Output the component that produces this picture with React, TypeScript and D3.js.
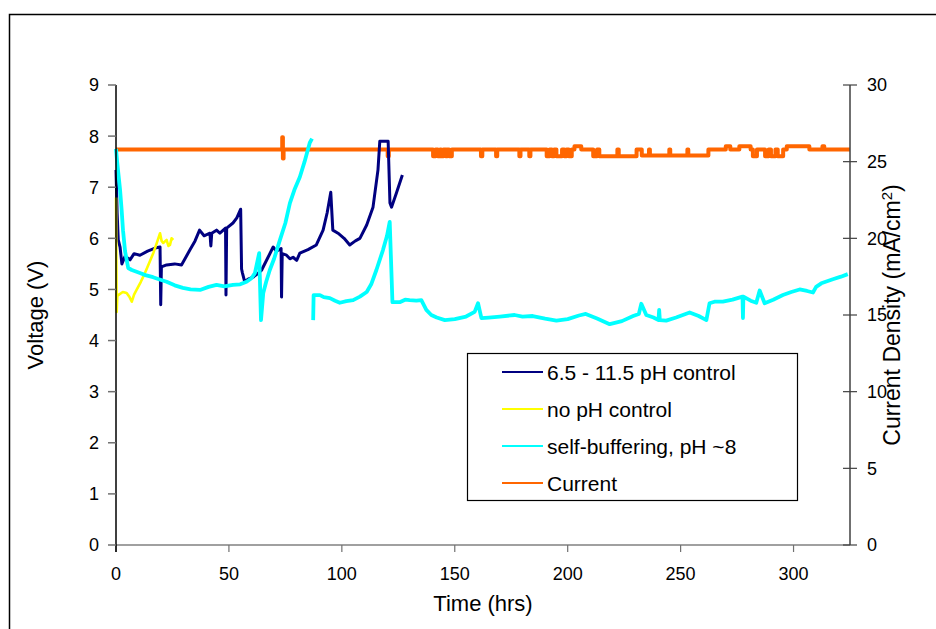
import React from "react";
import * as d3 from "d3";

// Time (hrs) / voltage (V) traces for each run
const phControl: [number, number][] = [
  [0, 7.34], [0.5, 6.5], [1, 5.97], [1.8, 5.83], [2.6, 5.5], [4, 5.65], [6.2, 5.58], [8, 5.7],
  [10.6, 5.67], [14, 5.75], [17.3, 5.81], [19.5, 5.83], [19.8, 4.7], [20.1, 5.44], [22.4, 5.48],
  [26, 5.5], [29, 5.48], [32.7, 5.77], [35, 5.95], [37, 6.16], [39, 6.05], [41.6, 6.1], [42, 5.85],
  [42.4, 6.1], [44.5, 6.16], [46, 6.1], [48.5, 6.2], [48.7, 4.89], [49, 6.2], [51.8, 6.3],
  [53.5, 6.4], [55.2, 6.57], [55.6, 5.4], [56, 5.32], [57, 5.15], [58.5, 5.2], [60.7, 5.24],
  [62.5, 5.3], [64.5, 5.38], [67, 5.6], [69.6, 5.83], [71, 5.75], [73.1, 5.8], [73.3, 4.85],
  [73.6, 5.7], [75.5, 5.67], [77, 5.6], [78.4, 5.63], [80, 5.57], [81.4, 5.71], [85, 5.78],
  [88.7, 5.87], [91.7, 6.16], [93.5, 6.5], [95.1, 6.9], [96, 6.16], [98.3, 6.1], [101, 6.0],
  [103.5, 5.87], [106, 5.95], [108, 6.0], [111, 6.26], [113.8, 6.61], [116, 7.34], [116.8, 7.9],
  [120.5, 7.9], [121.3, 6.69], [122, 6.61], [124.2, 6.89], [126.8, 7.24],
];

const noControl: [number, number][] = [
  [0, 6.8], [0.3, 4.56], [0.6, 4.9], [1, 4.89], [3, 4.95], [4.7, 4.93], [6, 4.85], [7, 4.76],
  [8, 4.9], [9.1, 4.99], [11, 5.15], [12.8, 5.32], [14.5, 5.5], [16.5, 5.71], [18, 5.9],
  [19.5, 6.1], [20.2, 5.95], [20.9, 5.91], [22.4, 5.97], [23.2, 5.85], [23.9, 5.87], [24.6, 6.0],
  [25.4, 5.97],
];

const selfBufferingA: [number, number][] = [
  [0, 7.75], [0.5, 7.5], [1.2, 7.2], [1.8, 6.95], [2.5, 6.55], [3.1, 6.16], [4, 5.75], [5.4, 5.42],
  [7, 5.38], [10.6, 5.32], [13, 5.28], [16.4, 5.24], [19, 5.2], [22.4, 5.15], [26, 5.08],
  [29.6, 5.03], [33, 5.0], [37.2, 4.99], [41, 5.05], [44.5, 5.09], [48, 5.06], [51.8, 5.09],
  [55, 5.1], [57.8, 5.15], [60, 5.22], [61.5, 5.32], [63.4, 5.71], [64.2, 4.4], [65.2, 4.93],
  [66.5, 5.15], [68.1, 5.38], [70, 5.6], [72.6, 5.97], [75, 6.3], [77, 6.69], [79, 6.95],
  [81.4, 7.2], [83.5, 7.5], [85.8, 7.87], [86.8, 7.95],
];

const selfBufferingB: [number, number][] = [
  [87.3, 4.4], [87.5, 4.89], [90.3, 4.89], [92, 4.85], [94.7, 4.83], [97, 4.78], [99.1, 4.74],
  [102, 4.77], [105, 4.79], [108, 4.86], [111, 4.95], [113, 5.1], [115.3, 5.38], [118.2, 5.77],
  [120, 6.05], [121.2, 6.32], [122.4, 4.75], [125.6, 4.75], [128, 4.8], [130, 4.79], [133, 4.78],
  [135.2, 4.79], [137.4, 4.6], [139.6, 4.5], [142, 4.45], [145.6, 4.4], [150, 4.42], [155, 4.47],
  [158.8, 4.56], [160.3, 4.73], [161.8, 4.44], [165, 4.45], [170, 4.47], [176.5, 4.5], [180, 4.47],
  [184.5, 4.48], [190, 4.43], [195, 4.39], [200, 4.42], [205, 4.49], [208, 4.52], [213, 4.43],
  [218.6, 4.32], [224, 4.38], [229, 4.48], [231.5, 4.52], [232.6, 4.72], [234.8, 4.5], [238, 4.45],
  [240.2, 4.4], [240.5, 4.6], [240.8, 4.4], [243.6, 4.39], [248, 4.45], [254, 4.55], [258, 4.48],
  [261.4, 4.4], [262.8, 4.73], [265, 4.76], [268.7, 4.76], [273, 4.8], [277.4, 4.86], [277.6, 4.44],
  [277.8, 4.86], [281, 4.78], [283.5, 4.74], [285, 4.98], [287.2, 4.73], [291, 4.8], [295.3, 4.89],
  [299, 4.95], [302.7, 5.0], [306, 4.97], [308.6, 4.94], [310, 5.05], [312.3, 5.12], [317.4, 5.2],
  [321, 5.25], [324, 5.3],
];

// Time (hrs) / current density (mA/cm²), held as steps
const current: [number, number][] = [
  [0, 25.8], [73.6, 26.6], [73.9, 25.2], [74.2, 25.8], [120.3, 25.35], [120.8, 25.8],
  [140.4, 25.35], [141.5, 25.8], [142.5, 25.35], [143.5, 25.8], [144, 25.35], [145, 25.8],
  [146, 25.35], [146.7, 25.8], [147.5, 25.35], [148.7, 25.8], [161.6, 25.35], [162.2, 25.8],
  [168.3, 25.35], [168.8, 25.8], [178.6, 25.35], [179.1, 25.8], [183, 25.35], [183.5, 25.8],
  [190.7, 25.35], [192, 25.8], [193, 25.35], [194, 25.8], [195, 25.35], [197.5, 25.8],
  [198.5, 25.35], [199.5, 25.8], [200.5, 25.35], [201.8, 25.8], [203, 26.0], [206, 25.8],
  [211.3, 25.35], [213, 25.8], [214, 25.35], [222, 25.8], [222.6, 25.35], [230.5, 25.8],
  [232.8, 25.4], [236, 25.8], [236.4, 25.4], [245, 25.8], [245.4, 25.4], [253, 25.8],
  [253.4, 25.4], [262.3, 25.8], [270, 26.0], [272, 25.8], [276, 26.0], [281, 25.8],
  [282, 25.35], [283.8, 25.8], [287.4, 25.35], [289, 25.8], [290, 25.35], [292, 25.8],
  [293, 25.35], [295.4, 25.8], [297, 26.0], [307, 25.8], [312.8, 26.0], [313.6, 25.8],
  [325, 25.8],
];

const timeTicks = [0, 50, 100, 150, 200, 250, 300];
const voltageTicks = [0, 1, 2, 3, 4, 5, 6, 7, 8, 9];
const currentTicks = [0, 5, 10, 15, 20, 25, 30];

const legendItems = [
  { label: "6.5 - 11.5 pH control", color: "#000080" },
  { label: "no pH control", color: "#FFFF00" },
  { label: "self-buffering, pH ~8", color: "#00FFFF" },
  { label: "Current", color: "#FF6600" },
];

const W = 936;
const H = 629;
const left = 116;
const right = 850;
const top = 85;
const bottom = 545;
const font = "'Liberation Sans', Arial, sans-serif";

export default function App() {
  const x = d3.scaleLinear().domain([0, 325]).range([left, right]);
  const yV = d3.scaleLinear().domain([0, 9]).range([bottom, top]);
  const yI = d3.scaleLinear().domain([0, 30]).range([bottom, top]);

  const vLine = d3
    .line<[number, number]>()
    .x((d) => x(d[0]))
    .y((d) => yV(d[1]));
  const iLine = d3
    .line<[number, number]>()
    .x((d) => x(d[0]))
    .y((d) => yI(d[1]))
    .curve(d3.curveStepAfter);

  const axisColor = "#404040";
  const tickColor = "#707070";

  return (
    <div style={{ position: "fixed", left: 0, top: 0 }}>
      <svg width={W} height={H} style={{ display: "block", background: "#fff" }} fontFamily={font}>
        <rect x={9.5} y={14.5} width={940} height={640} fill="#fff" stroke="#000" strokeWidth={1.5} />

        {/* series */}
        <g fill="none" strokeLinejoin="round">
          <path d={iLine(current) ?? ""} stroke="#FF6600" strokeWidth={4} />
          <path d={vLine(phControl) ?? ""} stroke="#000080" strokeWidth={3} />
          <path d={vLine(noControl) ?? ""} stroke="#FFFF00" strokeWidth={2.6} />
          <path d={vLine(selfBufferingA) ?? ""} stroke="#00FFFF" strokeWidth={3.8} />
          <path d={vLine(selfBufferingB) ?? ""} stroke="#00FFFF" strokeWidth={3.8} />
        </g>

        {/* x axis */}
        <line x1={left} x2={right} y1={bottom} y2={bottom} stroke="#808080" strokeWidth={1.5} />
        {timeTicks.map((t) => (
          <g key={"t" + t}>
            <line x1={x(t)} x2={x(t)} y1={bottom} y2={bottom + 7} stroke={tickColor} strokeWidth={1.2} />
            <text x={x(t)} y={580} textAnchor="middle" fontSize={18} fill="#000">
              {t}
            </text>
          </g>
        ))}

        {/* left axis */}
        <line x1={left} x2={left} y1={top} y2={bottom + 7} stroke="#000" strokeWidth={1.5} />
        {voltageTicks.map((v) => (
          <g key={"v" + v}>
            <line x1={left - 8} x2={left} y1={yV(v)} y2={yV(v)} stroke={tickColor} strokeWidth={1.5} />
            <text x={99} y={yV(v)} dy="0.36em" textAnchor="end" fontSize={18} fill="#000">
              {v}
            </text>
          </g>
        ))}

        {/* right axis */}
        <line x1={right} x2={right} y1={top} y2={bottom} stroke={axisColor} strokeWidth={1.5} />
        {currentTicks.map((c) => (
          <g key={"c" + c}>
            <line x1={right - 7} x2={right + 7} y1={yI(c)} y2={yI(c)} stroke={axisColor} strokeWidth={1.2} />
            <text x={867} y={yI(c)} dy="0.36em" textAnchor="start" fontSize={18} fill="#000">
              {c}
            </text>
          </g>
        ))}

        {/* axis titles */}
        <text x={(left + right) / 2} y={611} textAnchor="middle" fontSize={22} fill="#000">
          Time (hrs)
        </text>
        <text transform={`translate(43, ${(top + bottom) / 2}) rotate(-90)`} textAnchor="middle" fontSize={22} fill="#000">
          Voltage (V)
        </text>
        <text transform={`translate(900, ${(top + bottom) / 2}) rotate(-90)`} textAnchor="middle" fontSize={23} fill="#000">
          Current Density (mA/cm
          <tspan baselineShift="super" fontSize={15}>
            2
          </tspan>
          )
        </text>

        {/* legend */}
        <rect x={467.5} y={353.5} width={330} height={147} fill="#fff" stroke="#000" strokeWidth={1.2} />
        {legendItems.map((item, i) => {
          const cy = 372 + i * 37;
          return (
            <g key={item.label}>
              <line x1={502} x2={543} y1={cy} y2={cy} stroke={item.color} strokeWidth={2} />
              <text x={547} y={cy} dy="0.36em" fontSize={21} fill="#000">
                {item.label}
              </text>
            </g>
          );
        })}
      </svg>
    </div>
  );
}
